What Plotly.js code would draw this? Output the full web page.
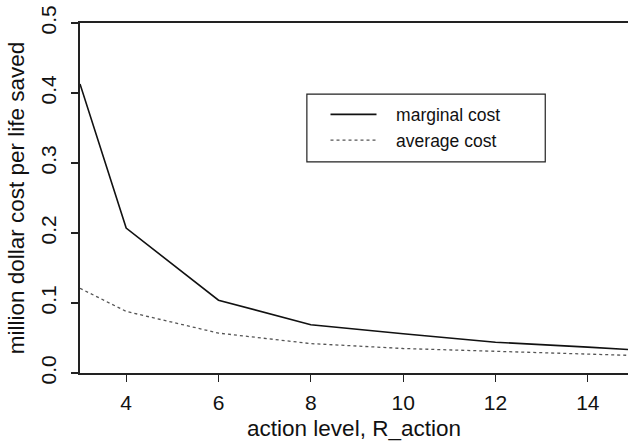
<!DOCTYPE html>
<html>
<head>
<meta charset="utf-8">
<script src="https://cdn.plot.ly/plotly-3.0.1.min.js"></script>
<style>html,body{margin:0;padding:0;background:#fff}#chart{width:628px;height:441px}</style>
</head>
<body>
<div id="chart"></div>
<script>
var actionLevel = [3, 4, 6, 8, 10, 12, 14, 15];
var marginalCost = [0.413, 0.207, 0.104, 0.069, 0.056, 0.044, 0.037, 0.033];
var averageCost = [0.121, 0.088, 0.057, 0.042, 0.035, 0.031, 0.028, 0.025];
var seriesNames = ["marginal cost", "average cost"];
var xTicks = [4, 6, 8, 10, 12, 14];
var yTicks = [0.0, 0.1, 0.2, 0.3, 0.4, 0.5];

var font = "Liberation Sans, Arial, Helvetica, sans-serif";
var pad = "\u00a0\u00a0\u00a0";
var traces = [
  {x: actionLevel, y: marginalCost, name: pad + seriesNames[0], mode: "lines",
   line: {color: "#111", width: 1.6}},
  {x: actionLevel, y: averageCost, name: pad + seriesNames[1], mode: "lines",
   line: {color: "#555", width: 1.3, dash: "dot"}}
];
var layout = {
  width: 628, height: 441,
  margin: {l: 80, r: 0, t: 23, b: 68},
  paper_bgcolor: "#fff", plot_bgcolor: "#fff",
  font: {family: font, color: "#111"},
  showlegend: true,
  legend: {x: 0.448, y: 0.79, xanchor: "left", yanchor: "top",
           bgcolor: "rgba(0,0,0,0)", borderwidth: 0,
           font: {size: 17.5, family: font, color: "#111"},
           itemwidth: 46, tracegroupgap: 0},
  xaxis: {range: [3, 14.87], tickvals: xTicks, ticktext: xTicks.map(String),
          ticks: "outside", ticklen: 7, tickwidth: 1.3, tickcolor: "#222",
          showline: true, linecolor: "#222", linewidth: 1.6, mirror: true,
          showgrid: false, zeroline: false, ticklabelstandoff: 3,
          tickfont: {size: 21, family: font, color: "#111"},
          title: {text: "action level, R_action", font: {size: 22.5, family: font, color: "#111"}, standoff: 7}},
  yaxis: {range: [0, 0.5], tickvals: yTicks, ticktext: yTicks.map(function(v){return v.toFixed(1);}),
          ticks: "outside", ticklen: 7, tickwidth: 1.3, tickcolor: "#222", tickangle: -90,
          showline: true, linecolor: "#222", linewidth: 1.6,
          showgrid: false, zeroline: false, ticklabelstandoff: 7,
          tickfont: {size: 21, family: font, color: "#111"},
          title: {text: "\u00a0\u00a0\u00a0\u00a0million dollar cost per life saved", font: {size: 22.5, family: font, color: "#111"}, standoff: 6}},
  shapes: [{type: "rect", xref: "paper", yref: "paper",
            x0: 0.414, x1: 0.849, y0: 0.603, y1: 0.797,
            line: {color: "#222", width: 1.2}, fillcolor: "rgba(0,0,0,0)"}]
};
Plotly.newPlot("chart", traces, layout, {displayModeBar: false, staticPlot: true});
</script>
</body>
</html>
